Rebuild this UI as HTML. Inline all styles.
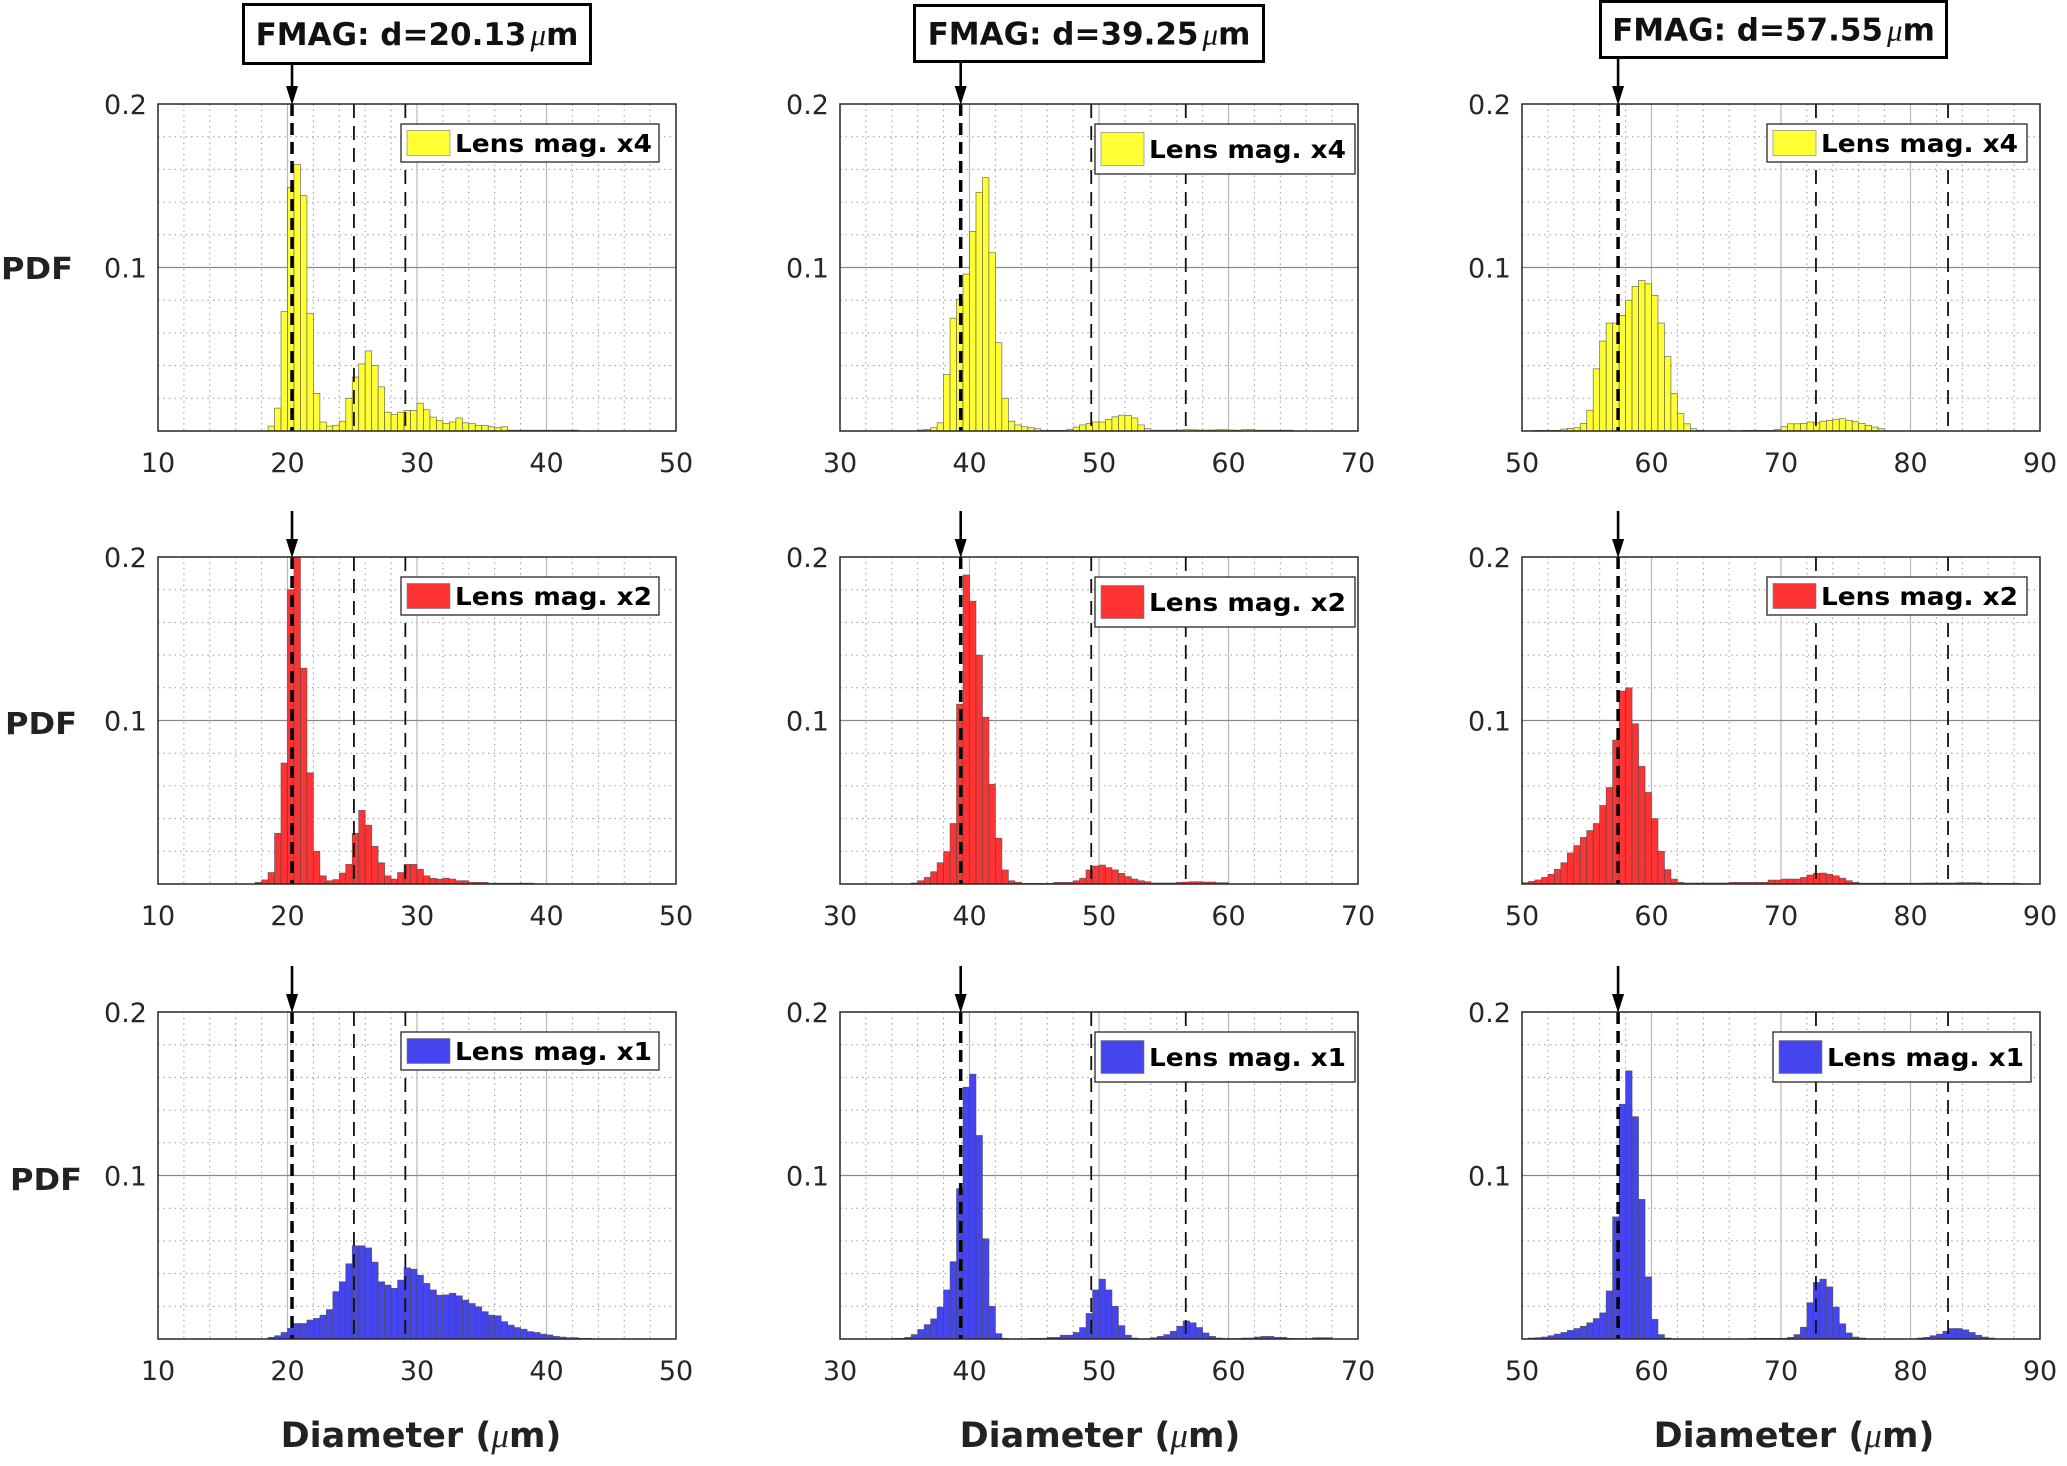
<!DOCTYPE html>
<html><head><meta charset="utf-8"><style>
html,body{margin:0;padding:0;background:#fff;}
svg{display:block;}
</style></head><body>
<svg id="fig" width="2067" height="1466" viewBox="0 0 2067 1466" xmlns="http://www.w3.org/2000/svg"></svg>
<script>
// ---------- data ----------
const binWidth = 0.5;
const xTicksCol1 = [10,20,30,40,50];
const xTicksCol2 = [30,40,50,60,70];
const xTicksCol3 = [50,60,70,80,90];
const yTicks = [0.1,0.2];
const yTickLabels = ["0.1","0.2"];
const fmagDiameters = [20.35,39.32,57.42];
const fmagLabels = ["20.13","39.25","57.55"];
const refLinesCol1 = [25.13,29.1];
const refLinesCol2 = [49.4,56.7];
const refLinesCol3 = [72.7,82.9];
const legendLabels = ["Lens mag. x4","Lens mag. x2","Lens mag. x1"];

const startYellow1 = 18.5;
const valsYellow1 = [0.003,0.014,0.073,0.149,0.163,0.144,0.072,0.023,0.0055,0.003,0.0035,0.006,0.02,0.033,0.041,0.049,0.04,0.027,0.0115,0.01,0.0115,0.0126,0.0126,0.017,0.013,0.0085,0.0065,0.0045,0.0055,0.008,0.005,0.0045,0.0035,0.0035,0.0026,0.002,0.0026,0.0005,0.0005,0.0005,0.0005,0.0005,0.0005,0.0005,0.0005,0.0005,0.0005,0.0005];
const startRed1 = 17.5;
const valsRed1 = [0.001,0.0025,0.007,0.031,0.074,0.18,0.2,0.132,0.068,0.02,0.005,0.002,0.0027,0.0067,0.012,0.031,0.045,0.036,0.023,0.013,0.005,0.003,0.007,0.012,0.012,0.009,0.005,0.0035,0.003,0.0035,0.003,0.002,0.002,0.001,0.001,0.001,0.0005,0.0005,0.0005,0.0005,0.0005,0.0005,0.0005];
const startBlue1 = 18.5;
const valsBlue1 = [0.001,0.002,0.004,0.0065,0.0095,0.0095,0.0116,0.0126,0.0146,0.018,0.029,0.035,0.046,0.057,0.057,0.0557,0.047,0.035,0.033,0.031,0.036,0.0435,0.0427,0.039,0.034,0.03,0.0268,0.027,0.028,0.0264,0.0238,0.0217,0.0197,0.0167,0.0146,0.0142,0.0106,0.0085,0.007,0.006,0.0045,0.004,0.003,0.0025,0.0016,0.0012,0.0008,0.0008,0.0004,0.0004];

const startYellow2 = 36.0;
const valsYellow2 = [0.0006,0.001,0.002,0.005,0.0345,0.069,0.0805,0.096,0.122,0.146,0.155,0.109,0.054,0.02,0.006,0.0037,0.0026,0.002,0.0014,0.0004,0.0004,0.0004,0.0004,0.001,0.0024,0.0037,0.0047,0.0055,0.0055,0.007,0.0087,0.0097,0.0095,0.008,0.0037,0.0014,0.0005,0.0005,0.0005,0.0005,0.0006,0.0008,0.0008,0.0006,0.0006,0.0006,0.0008,0.0008,0.0006,0.0005,0.0008,0.001,0.0005,0.0005,0.0005,0.0005,0.0005,0.0005];
const startRed2 = 35.5;
const valsRed2 = [0.0006,0.002,0.004,0.0075,0.013,0.0198,0.037,0.11,0.189,0.173,0.14,0.102,0.061,0.028,0.0086,0.002,0.001,0.0004,0.0004,0.0004,0.0004,0.0004,0.001,0.001,0.001,0.002,0.0035,0.0086,0.011,0.0116,0.010,0.0086,0.0065,0.0045,0.003,0.002,0.0014,0.0006,0.0006,0.0006,0.0006,0.001,0.0012,0.0014,0.0014,0.0012,0.0012,0.0008,0.0008];
const startBlue2 = 34.0;
const valsBlue2 = [0.0004,0.0004,0.001,0.0027,0.0058,0.0088,0.0123,0.0195,0.03,0.0473,0.092,0.154,0.162,0.1245,0.0613,0.02,0.0033,0.0004,0,0,0,0.0004,0.0004,0.0004,0.001,0.001,0.0023,0.0023,0.004,0.007,0.0156,0.03,0.0366,0.03,0.02,0.0082,0.0023,0.0006,0.0002,0.0002,0.0008,0.0016,0.0027,0.0047,0.0078,0.011,0.0099,0.007,0.0037,0.0016,0.0006,0.0003,0.0003,0.0003,0.0006,0.0006,0.0012,0.0016,0.0016,0.001,0.001,0.0004,0.0003,0.0003,0.0003,0.0008,0.0008,0.0008];

const startYellow3 = 51.0;
const valsYellow3 = [0.0004,0.0004,0.0004,0.0004,0.0012,0.0016,0.002,0.0046,0.0127,0.038,0.055,0.066,0.066,0.0707,0.08,0.0885,0.092,0.09,0.083,0.066,0.0455,0.023,0.0107,0.0044,0.0014,0.0004,0.0002,0.0002,0.0002,0.0002,0.0002,0.0002,0.0004,0.0004,0.0004,0.0004,0.0004,0.001,0.0026,0.0044,0.0044,0.0046,0.0055,0.005,0.006,0.0065,0.007,0.0075,0.0065,0.0057,0.0046,0.0034,0.0024,0.0014];
const startRed3 = 50.0;
const valsRed3 = [0.0008,0.0016,0.0025,0.004,0.006,0.009,0.013,0.019,0.0235,0.0285,0.0327,0.037,0.048,0.059,0.088,0.118,0.12,0.098,0.072,0.056,0.04,0.02,0.0088,0.003,0.001,0.0006,0.0006,0.0006,0.0006,0.0006,0.0006,0.0006,0.001,0.001,0.001,0.001,0.001,0.001,0.0024,0.0024,0.003,0.003,0.003,0.004,0.0055,0.0065,0.0067,0.006,0.005,0.0035,0.002,0.001,0.0005,0.0005,0.0005,0.0005,0.0005,0.0005,0.0005,0.0005,0.0005,0.0005,0.0006,0.0006,0.0006,0.0006,0.0006,0.0008,0.0008,0.0008,0.0008,0.0004,0.0004,0.0004,0.0004,0.0004,0.0004];
const startBlue3 = 50.5;
const valsBlue3 = [0.0006,0.0008,0.0012,0.002,0.003,0.004,0.0053,0.0064,0.0078,0.0099,0.0125,0.016,0.0294,0.0747,0.1436,0.164,0.136,0.0854,0.038,0.012,0.0027,0.0006,0,0,0,0,0,0,0,0,0,0,0,0,0.0004,0.0004,0.0004,0.0004,0.0004,0.0004,0.001,0.0027,0.0072,0.0222,0.0346,0.0366,0.0319,0.0195,0.0093,0.0037,0.0012,0.0006,0,0,0,0,0,0,0,0,0.0006,0.001,0.002,0.003,0.0047,0.0064,0.0064,0.0056,0.004,0.0023,0.0012,0.0006];

// ---------- layout ----------
const NS = "http://www.w3.org/2000/svg";
const svg = document.getElementById('fig');
const colLeft = [158,840,1522];
const rowTop = [104,557,1012];
const PW = 518, PH = 327;
const colors = ["#ffff33","#ff3333","#4545f0"];
const colXTicks = [xTicksCol1,xTicksCol2,xTicksCol3];
const colRefs = [refLinesCol1,refLinesCol2,refLinesCol3];
const panelData = [
  [[startYellow1,valsYellow1],[startRed1,valsRed1],[startBlue1,valsBlue1]],
  [[startYellow2,valsYellow2],[startRed2,valsRed2],[startBlue2,valsBlue2]],
  [[startYellow3,valsYellow3],[startRed3,valsRed3],[startBlue3,valsBlue3]]
];
const legendGeom = [
  [[243,258,38,43,25],[243,258,38,43,25],[243,258,38,43,25]],
  [[255,260,50,43,33],[255,260,50,43,33],[255,260,50,43,33]],
  [[245,260,38,43,25],[245,260,38,43,25],[251,258,50,43,33]]
];
const fmagBoxes = [[242,3,350,62],[913,4,352,59],[1599,0,349,59]];

function mk(tag, attrs, parent){
  const e = document.createElementNS(NS, tag);
  for (const k in attrs) e.setAttribute(k, attrs[k]);
  (parent||svg).appendChild(e);
  return e;
}

for (let c=0;c<3;c++){
  const ticks = colXTicks[c];
  const x0 = ticks[0], x1 = ticks[ticks.length-1];
  const L = colLeft[c];
  const X = v => L + (v - x0) / (x1 - x0) * PW;
  for (let r=0;r<3;r++){
    const T = rowTop[r], B = T + PH;
    const Y = v => B - v / 0.2 * PH;
    const g = mk('g', {});
    
    
    for (let v = x0 + 2; v < x1; v += 2){
      if ((v - x0) % 10 === 0) continue;
      const ln = mk('line', {x1:X(v), x2:X(v), y1:T, y2:B, stroke:'#9a9a9a', 'stroke-width':1, 'stroke-dasharray':'1.5 4'}, g);
      
      
    }
    for (let k = 1; k < 10; k++){
      if (k === 5) continue;
      const v = k * 0.02;
      const ln = mk('line', {x1:L, x2:L+PW, y1:Y(v), y2:Y(v), stroke:'#9a9a9a', 'stroke-width':1, 'stroke-dasharray':'1.5 4'}, g);
      
      
    }
    for (let i = 1; i < ticks.length - 1; i++){
      const ln = mk('line', {x1:X(ticks[i]), x2:X(ticks[i]), y1:T, y2:B, stroke:'#b8b8b8', 'stroke-width':1.2}, g);
      
      
    }
    {
      const ln = mk('line', {x1:L, x2:L+PW, y1:Y(0.1), y2:Y(0.1), stroke:'#8a8a8a', 'stroke-width':1.3}, g);
      
      
    }
    const [start, vals] = panelData[c][r];
    const bw = X(x0 + binWidth) - X(x0);
    vals.forEach((v, i) => {
      if (v <= 0) return;
      const xs = start + i * binWidth;
      const rc = mk('rect', {x:X(xs), y:Y(v), width:bw, height:B - Y(v), fill:colors[r], stroke:'#4a4a4a', 'stroke-width':0.7, 'stroke-opacity':0.8}, g);
      
      
    });
    colRefs[c].forEach(d => {
      const ln = mk('line', {x1:X(d), x2:X(d), y1:T, y2:B, stroke:'#111', 'stroke-width':1.8, 'stroke-dasharray':'14 8'}, g);
      
      
    });
    {
      const ln = mk('line', {x1:X(fmagDiameters[c]), x2:X(fmagDiameters[c]), y1:T, y2:B, stroke:'#000', 'stroke-width':3.5, 'stroke-dasharray':'12 7'}, g);
      
      
    }
    {
      const bx = mk('rect', {x:L, y:T, width:PW, height:PH, fill:'none', stroke:'#262626', 'stroke-width':1.5}, g);
      
      
    }
    ticks.forEach(t => {
      const tx = mk('text', {x:X(t), y:B + 41, 'text-anchor':'middle', 'font-family':'"DejaVu Sans", "Liberation Sans", sans-serif', 'font-size':27, fill:'#262626'}, g);
      tx.textContent = String(t);
      
      
    });
    yTicks.forEach((t, i) => {
      const tx = mk('text', {x:L - 11, y:Y(t) + 10, 'text-anchor':'end', 'font-family':'"DejaVu Sans", "Liberation Sans", sans-serif', 'font-size':27, fill:'#262626'}, g);
      tx.textContent = yTickLabels[i];
      
      
    });
    const [lx, lw, lh, sw, sh] = legendGeom[c][r];
    const lg = mk('g', {}, g);
    
    
    mk('rect', {x:L + lx, y:T + 20, width:lw, height:lh, fill:'#fff', stroke:'#262626', 'stroke-width':1.3}, lg);
    const sw_ = mk('rect', {x:L + lx + 6, y:T + 20 + (lh - sh)/2, width:sw, height:sh, fill:colors[r], stroke:'#777', 'stroke-width':0.6}, lg);
    
    
    const lt = mk('text', {x:L + lx + 54, y:T + 20 + lh/2 + 9, 'font-family':'"DejaVu Sans", "Liberation Sans", sans-serif', 'font-weight':'bold', 'font-size':25, fill:'#000', textLength:197, lengthAdjust:'spacingAndGlyphs'}, lg);
    lt.textContent = legendLabels[r];
    
    
    const ax = X(fmagDiameters[c]);
    const aTop = r === 0 ? fmagBoxes[c][1] + fmagBoxes[c][3] : T - 46;
    const ar = mk('g', {}, g);
    
    
    mk('line', {x1:ax, x2:ax, y1:aTop, y2:T - 14, stroke:'#000', 'stroke-width':2.6}, ar);
    mk('path', {d:'M' + (ax-6) + ' ' + (T-18) + ' L' + (ax+6) + ' ' + (T-18) + ' L' + ax + ' ' + (T+1) + ' Z', fill:'#000'}, ar);
  }
  const [bx, by, bw2, bh] = fmagBoxes[c];
  const fb = mk('g', {});
  
  
  mk('rect', {x:bx + 1.5, y:by + 1.5, width:bw2 - 3, height:bh - 3, fill:'#fff', stroke:'#000', 'stroke-width':3}, fb);
  const ft = mk('text', {x:bx + bw2/2, y:by + bh/2 + 11, 'text-anchor':'middle', 'font-family':'"DejaVu Sans", "Liberation Sans", sans-serif', 'font-weight':'bold', 'font-size':31, fill:'#111'}, fb);
  const t1 = mk('tspan', {}, ft); t1.textContent = 'FMAG: d=' + fmagLabels[c];
  const t2 = mk('tspan', {'font-style':'italic', 'font-weight':'normal', 'font-family':'"Liberation Serif", serif', dx:4}, ft); t2.textContent = 'μ';
  const t3 = mk('tspan', {}, ft); t3.textContent = 'm';
  
  
  const xt = mk('text', {x:[421,1100,1794][c], y:1447, 'text-anchor':'middle', 'font-family':'"DejaVu Sans", "Liberation Sans", sans-serif', 'font-weight':'bold', 'font-size':35, fill:'#222'});
  const a1 = mk('tspan', {}, xt); a1.textContent = 'Diameter (';
  const a2 = mk('tspan', {'font-style':'italic', 'font-weight':'normal', 'font-family':'"Liberation Serif", serif'}, xt); a2.textContent = 'μ';
  const a3 = mk('tspan', {}, xt); a3.textContent = 'm)';
  
  
}
[[37,279],[41,734],[46,1190]].forEach(p => {
  const t = mk('text', {x:p[0], y:p[1], 'text-anchor':'middle', 'font-family':'"DejaVu Sans", "Liberation Sans", sans-serif', 'font-weight':'bold', 'font-size':30, fill:'#222', textLength:72, lengthAdjust:'spacingAndGlyphs'});
  t.textContent = 'PDF';
  
  
});
</script>
</body></html>
